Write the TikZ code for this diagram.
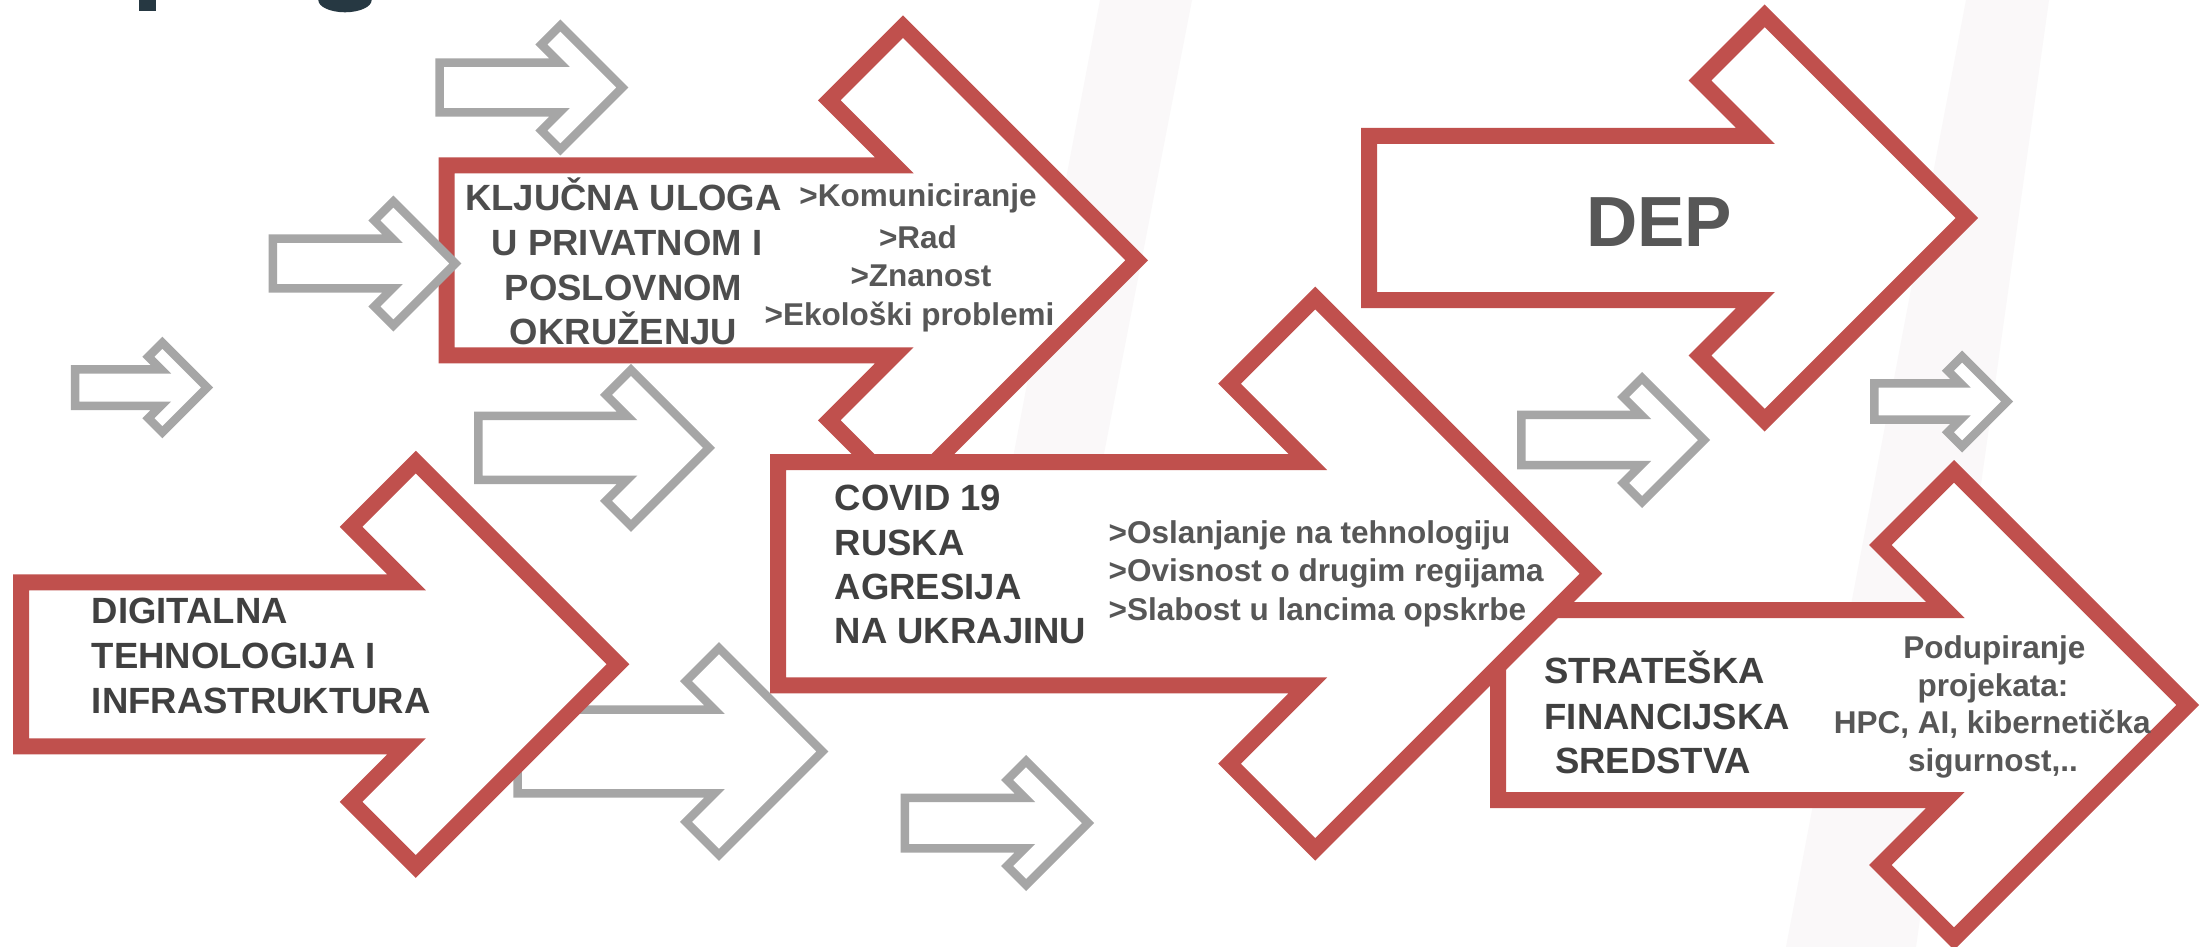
\documentclass[tikz,border=0pt]{standalone}
\usepackage{fontspec}
\setmainfont{Liberation Sans}
\definecolor{arrowred}{HTML}{C0504D}
\definecolor{arrowgrey}{HTML}{A6A6A6}
\definecolor{txtdark}{HTML}{404040}
\definecolor{txtmid}{HTML}{4D4D4D}
\definecolor{txtgrey}{HTML}{575757}
\definecolor{titledark}{HTML}{263842}
\definecolor{wmark}{HTML}{FAF8F9}
\tikzset{
  redarrow/.style={draw=arrowred, line width=16pt, fill=white, line join=miter},
  greyarrow/.style={draw=arrowgrey, line width=8.5pt, fill=white, line join=miter},
  lbl/.style={font=\fontsize{36.5}{44}\selectfont\bfseries, text=txtdark, inner sep=0pt},
  lblm/.style={lbl, text=txtmid},
  lst/.style={font=\fontsize{31.5}{38}\selectfont\bfseries, text=txtgrey, inner sep=0pt},
  deplbl/.style={font=\fontsize{71}{80}\selectfont\bfseries, text=txtgrey, inner sep=0pt},
}
% style, L, c, h, T, a, b (outer measures), d (half stroke)
\newcommand{\chevarrow}[8]{%
  \pgfmathsetmacro{\cvL}{#2+#8}%
  \pgfmathsetmacro{\cvH}{#4-#8}%
  \pgfmathsetmacro{\cvT}{#5-1.41421*#8}%
  \pgfmathsetmacro{\cvA}{#6-1.41421*#8}%
  \pgfmathsetmacro{\cvB}{#7-1.41421*#8}%
  \pgfmathsetmacro{\cvC}{#3}%
  \draw[#1] (\cvL,\cvC-\cvH) -- (\cvT-2*\cvB-\cvH,\cvC-\cvH)
    -- (\cvT-\cvA-\cvB,\cvC-\cvA+\cvB) -- (\cvT-\cvA,\cvC-\cvA)
    -- (\cvT,\cvC) -- (\cvT-\cvA,\cvC+\cvA)
    -- (\cvT-\cvA-\cvB,\cvC+\cvA-\cvB) -- (\cvT-2*\cvB-\cvH,\cvC+\cvH)
    -- (\cvL,\cvC+\cvH) -- cycle;%
}
\begin{document}
\begin{tikzpicture}[x=1pt,y=-1pt]
\useasboundingbox (0,0) rectangle (2206,947);
\fill[white] (0,0) rectangle (2206,947);
% faint background marks
\fill[wmark] (1100,0) -- (1192,0) -- (1095,500) -- (1005,500) -- cycle;
\fill[wmark] (1966,0) -- (2049,0) -- (1916,947) -- (1786,947) -- cycle;
% cropped title letters
\fill[titledark] (139,0) rectangle (155.7,10.7);
\fill[titledark] (318.3,0) arc[start angle=180, end angle=0, x radius=26.7, y radius=12.3] -- cycle;

% grey arrows behind red ones
\chevarrow{greyarrow}{513.3}{751.5}{46.2}{828.3}{109.3}{39}{4.25}
% red arrows
\chevarrow{redarrow}{13.2}{664.3}{90}{629.3}{213.5}{76}{8}
\chevarrow{redarrow}{438.6}{260.3}{103}{1148}{245}{85}{8}
% grey arrows
\chevarrow{greyarrow}{435.4}{87.5}{29.2}{628.4}{68}{25}{4.25}
\chevarrow{greyarrow}{268.5}{263.5}{29.2}{461.4}{68}{25}{4.25}
\chevarrow{greyarrow}{70.8}{387.5}{22.5}{213.2}{50.8}{20}{4.25}
\chevarrow{greyarrow}{474}{447.8}{36.2}{715}{84}{31}{4.25}
\chevarrow{greyarrow}{900.7}{823}{29.5}{1094}{68}{25}{4.25}
\chevarrow{greyarrow}{1517.2}{440}{29.3}{1710}{68}{25}{4.25}
\chevarrow{greyarrow}{1870.2}{401.5}{22.3}{2013.1}{51}{20.3}{4.25}
% red arrows (front)
\chevarrow{redarrow}{1490}{705}{103}{2199}{245}{85}{8}
\chevarrow{redarrow}{770}{573.7}{119.7}{1602.2}{287}{97}{8}
\chevarrow{redarrow}{1361}{218}{90}{1978.2}{213.5}{76}{8}

% texts: KLJUCNA arrow
\node[lblm, anchor=base] (k1) at (623.5,210.5) {KLJUČNA ULOGA};
\node[lblm, anchor=base] (k2) at (627,255.5) {U PRIVATNOM I};
\node[lblm, anchor=base] (k3) at (623.5,300) {POSLOVNOM};
\node[lblm, anchor=base] (k4) at (623.5,344) {OKRUŽENJU};
\node[lst, anchor=base] (kl1) at (918,206.7) {>Komuniciranje};
\node[lst, anchor=base] (kl2) at (918,248.3) {>Rad};
\node[lst, anchor=base] (kl3) at (921,286) {>Znanost};
\node[lst, anchor=base] (kl4) at (909.5,325) {>Ekološki problemi};
% DEP
\node[deplbl, anchor=base] (dep) at (1659,246.7) {DEP};
% DIGITALNA
\node[lbl, anchor=base west] (d1) at (91.7,623.5) {DIGITALNA};
\node[lbl, anchor=base west] (d2) at (91.7,668.5) {TEHNOLOGIJA I};
\node[lbl, anchor=base west] (d3) at (91.7,713.3) {INFRASTRUKTURA};
% COVID
\node[lbl, anchor=base west] (c1) at (834.6,510) {COVID 19};
\node[lbl, anchor=base west] (c2) at (834.6,555) {RUSKA};
\node[lbl, anchor=base west] (c3) at (834.6,599.3) {AGRESIJA};
\node[lbl, anchor=base west] (c4) at (834.6,643.3) {NA UKRAJINU};
\node[lst, anchor=base west] (cl1) at (1108.5,543.3) {>Oslanjanje na tehnologiju};
\node[lst, anchor=base west] (cl2) at (1108.5,581.7) {>Ovisnost o drugim regijama};
\node[lst, anchor=base west] (cl3) at (1108.5,620) {>Slabost u lancima opskrbe};
% STRATESKA
\node[lbl, anchor=base west] (s1) at (1544.4,683.3) {STRATEŠKA};
\node[lbl, anchor=base west] (s2) at (1544.4,729.3) {FINANCIJSKA};
\node[lbl, anchor=base west] (s3) at (1555,773.3) {SREDSTVA};
\node[lst, anchor=base] (sl1) at (1994.4,658.3) {Podupiranje};
\node[lst, anchor=base] (sl2) at (1993,696.7) {projekata:};
\node[lst, anchor=base] (sl3) at (1992.3,733.3) {HPC, AI, kibernetička};
\node[lst, anchor=base] (sl4) at (1993,771.7) {sigurnost,..};
\end{tikzpicture}
\end{document}
